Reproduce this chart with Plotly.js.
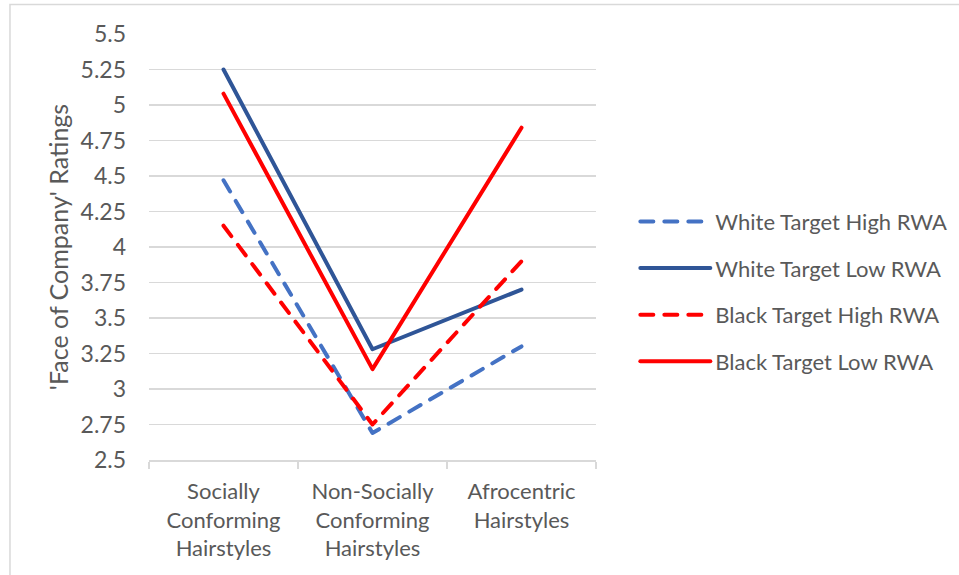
<!DOCTYPE html>
<html>
<head>
<meta charset="utf-8">
<script src="https://cdn.plot.ly/plotly-3.0.1.min.js"></script>
<style>
  html, body { margin: 0; padding: 0; background: #ffffff; }
  #chart { width: 959px; height: 575px; }
  .scatterlayer path.js-line, .legend path.js-line { stroke-linecap: round; stroke-linejoin: round; }
</style>
</head>
<body>
<div id="chart"></div>
<script>
// Hairstyle categories on the x axis (line breaks as drawn under the axis)
const categories = [
  "Socially<br>Conforming<br>Hairstyles",
  "Non-Socially<br>Conforming<br>Hairstyles",
  "Afrocentric<br>Hairstyles"
];

// Mean 'Face of Company' ratings per condition
const whiteHighRWA = [4.47, 2.69, 3.30];
const whiteLowRWA  = [5.25, 3.28, 3.70];
const blackHighRWA = [4.15, 2.75, 3.90];
const blackLowRWA  = [5.08, 3.14, 4.84];

const seriesNames = [
  "White Target High RWA",
  "White Target Low RWA",
  "Black Target High RWA",
  "Black Target Low RWA"
];

// Y axis ticks
const yTickVals = [2.5, 2.75, 3, 3.25, 3.5, 3.75, 4, 4.25, 4.5, 4.75, 5, 5.25, 5.5];
const yTickText = ["2.5", "2.75", "3", "3.25", "3.5", "3.75", "4", "4.25", "4.5", "4.75", "5", "5.25", "5.5"];

const FONT = "Lato, 'Open Sans', sans-serif";
const TEXT = "#595959";
const GRID = "#d9d9d9";
const DASH = "13px,11px";

function series(name, values, color, dash, group) {
  return {
    type: "scatter",
    mode: "lines",
    name: name,
    x: categories,
    y: values,
    legendgroup: group,
    line: { color: color, width: 4, dash: dash },
    hoverinfo: "skip"
  };
}

const data = [
  series(seriesNames[0], whiteHighRWA, "#4472C4", DASH, "g1"),
  series(seriesNames[1], whiteLowRWA,  "#2F5597", "solid", "g2"),
  series(seriesNames[2], blackHighRWA, "#FF0000", DASH, "g3"),
  series(seriesNames[3], blackLowRWA,  "#FF0000", "solid", "g4")
];

const layout = {
  width: 959,
  height: 575,
  margin: { l: 149, r: 363, t: 34, b: 115 },
  paper_bgcolor: "#ffffff",
  plot_bgcolor: "#ffffff",
  font: { family: FONT, size: 22, color: TEXT },
  showlegend: true,
  legend: {
    xref: "container",
    yref: "container",
    x: 0.6625,
    y: 0.4927,
    xanchor: "left",
    yanchor: "middle",
    traceorder: "grouped",
    tracegroupgap: 15,
    itemwidth: 70,
    font: { family: FONT, size: 22, color: TEXT },
    bgcolor: "rgba(0,0,0,0)"
  },
  xaxis: {
    type: "category",
    range: [-0.5, 2.5],
    showgrid: false,
    zeroline: false,
    showline: true,
    linecolor: GRID,
    linewidth: 1.5,
    ticks: "outside",
    tickson: "boundaries",
    ticklen: 7,
    tickwidth: 1.5,
    tickcolor: GRID,
    ticklabelstandoff: 11,
    tickfont: { family: FONT, size: 22, color: TEXT },
    fixedrange: true
  },
  yaxis: {
    range: [2.5, 5.5],
    tickvals: yTickVals,
    ticktext: yTickText,
    showgrid: true,
    gridcolor: GRID,
    gridwidth: 1.5,
    zeroline: false,
    showline: false,
    ticks: "",
    ticklabelstandoff: 22,
    tickfont: { family: FONT, size: 23, color: TEXT },
    title: {
      text: "'Face of Company' Ratings",
      font: { family: FONT, size: 25, color: TEXT },
      standoff: 4
    },
    fixedrange: true
  },
  shapes: [
    {
      type: "rect",
      xref: "paper", yref: "paper",
      x0: -0.311, x1: 1.9, y0: -0.4, y1: 1.069,
      line: { color: GRID, width: 1.5 },
      fillcolor: "rgba(0,0,0,0)",
      layer: "below"
    }
  ]
};

Plotly.newPlot("chart", data, layout, { staticPlot: true, displayModeBar: false });
</script>
</body>
</html>
